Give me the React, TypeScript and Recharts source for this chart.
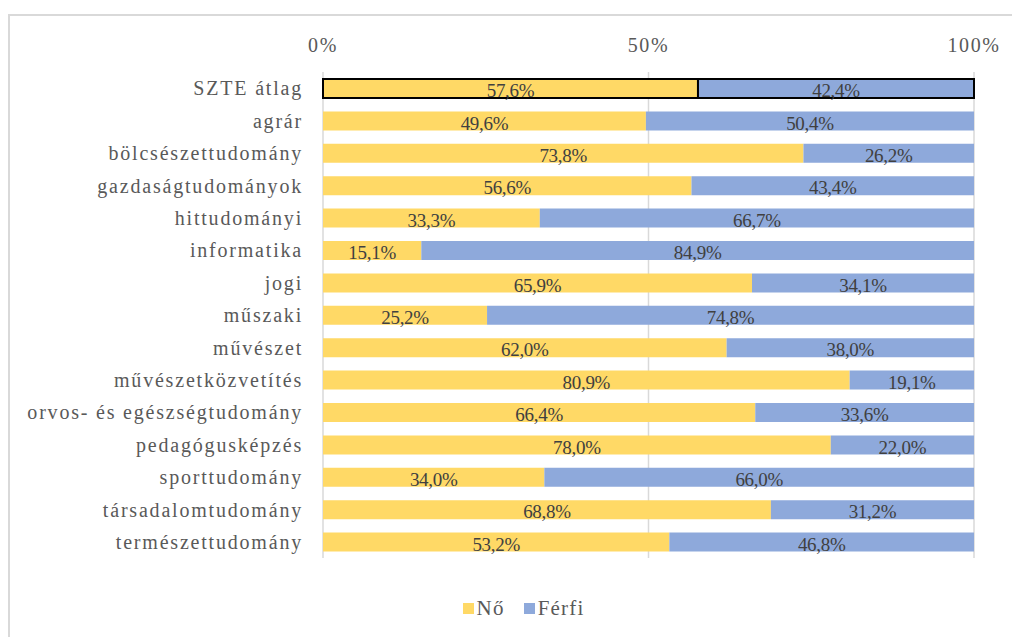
import React from "react";
import { BarChart, Bar, XAxis, YAxis, CartesianGrid, Legend, LabelList, Cell } from "recharts";

const categories = [
  "SZTE átlag",
  "agrár",
  "bölcsészettudomány",
  "gazdaságtudományok",
  "hittudományi",
  "informatika",
  "jogi",
  "műszaki",
  "művészet",
  "művészetközvetítés",
  "orvos- és egészségtudomány",
  "pedagógusképzés",
  "sporttudomány",
  "társadalomtudomány",
  "természettudomány",
];
const noValues = [57.6, 49.6, 73.8, 56.6, 33.3, 15.1, 65.9, 25.2, 62.0, 80.9, 66.4, 78.0, 34.0, 68.8, 53.2];
const ferfiValues = [42.4, 50.4, 26.2, 43.4, 66.7, 84.9, 34.1, 74.8, 38.0, 19.1, 33.6, 22.0, 66.0, 31.2, 46.8];
const xTicks = [0, 50, 100];
const seriesNames = ["Nő", "Férfi"];
const seriesColors = ["#FFD966", "#8EA9DB"];

const data = categories.map((name, i) => ({ name, no: noValues[i], ferfi: ferfiValues[i] }));

const FONT = "Liberation Serif, Times New Roman, serif";
const fmt = (v: number) => v.toFixed(1).replace(".", ",") + "%";

const LegendContent = () => (
  <div
    style={{
      height: 69,
      display: "flex",
      justifyContent: "center",
      alignItems: "flex-start",
      paddingTop: 38,
      paddingLeft: 65,
      boxSizing: "border-box",
      fontFamily: FONT,
      fontSize: 21,
      letterSpacing: 1.2,
      color: "#595959",
    }}
  >
    {seriesNames.map((n, i) => (
      <div key={n} style={{ display: "flex", alignItems: "center", marginRight: i === 0 ? 19 : 0 }}>
        <div style={{ width: 11, height: 11, background: seriesColors[i], marginRight: 3 }} />
        <span style={{ lineHeight: "24px" }}>{n}</span>
      </div>
    ))}
  </div>
);

const labelStyle = { fill: "#404040", fontSize: 19, fontFamily: FONT, letterSpacing: -0.3 };

export default function App() {
  return (
    <div style={{ position: "relative", width: 1012, height: 629, overflow: "hidden", fontFamily: FONT }}>
      <div
        style={{
          position: "absolute",
          left: 0,
          top: 6,
          width: 1100,
          height: 700,
          border: "2px solid #d9d9d9",
          boxSizing: "border-box",
        }}
      />
      <div style={{ position: "absolute", left: 0, top: 0 }}>
        <BarChart
          width={1012}
          height={629}
          data={data}
          layout="vertical"
          margin={{ top: 34, right: 46, bottom: 10, left: 0 }}
          barSize={19}
          style={{ fontFamily: FONT }}
        >
          <CartesianGrid horizontal={false} vertical={true} stroke="#d9d9d9" strokeWidth={1.5} />
          <XAxis
            type="number"
            orientation="top"
            domain={[0, 100]}
            ticks={xTicks}
            tickFormatter={(v: number) => `${v}%`}
            axisLine={false}
            tickLine={false}
            tickSize={0}
            tickMargin={20}
            height={30}
            tick={{ fill: "#595959", fontSize: 20, fontFamily: FONT, style: { fontFamily: FONT, letterSpacing: 1.6 } }}
            interval={0}
          />
          <YAxis
            type="category"
            dataKey="name"
            width={315}
            axisLine={false}
            tickLine={false}
            tickSize={0}
            tickMargin={20}
            interval={0}
            tick={{ fill: "#595959", fontSize: 20, fontFamily: FONT, style: { fontFamily: FONT, letterSpacing: 1.8 } }}
          />
          <Legend verticalAlign="bottom" align="center" height={69} content={<LegendContent />} />
          <Bar dataKey="no" name="Nő" stackId="a" fill={seriesColors[0]} isAnimationActive={false}>
            {data.map((_, i) => (
              <Cell key={i} stroke={i === 0 ? "#000" : "none"} strokeWidth={i === 0 ? 2 : 0} />
            ))}
            <LabelList
              dataKey="no"
              position="center"
              formatter={(v: number) => fmt(v)}
              fill="#404040"
              fontSize={19}
              fontFamily={FONT}
              style={labelStyle}
              dy={2}
            />
          </Bar>
          <Bar dataKey="ferfi" name="Férfi" stackId="a" fill={seriesColors[1]} isAnimationActive={false}>
            {data.map((_, i) => (
              <Cell key={i} stroke={i === 0 ? "#000" : "none"} strokeWidth={i === 0 ? 2 : 0} />
            ))}
            <LabelList
              dataKey="ferfi"
              position="center"
              formatter={(v: number) => fmt(v)}
              fill="#404040"
              fontSize={19}
              fontFamily={FONT}
              style={labelStyle}
              dy={2}
            />
          </Bar>
        </BarChart>
      </div>
    </div>
  );
}
